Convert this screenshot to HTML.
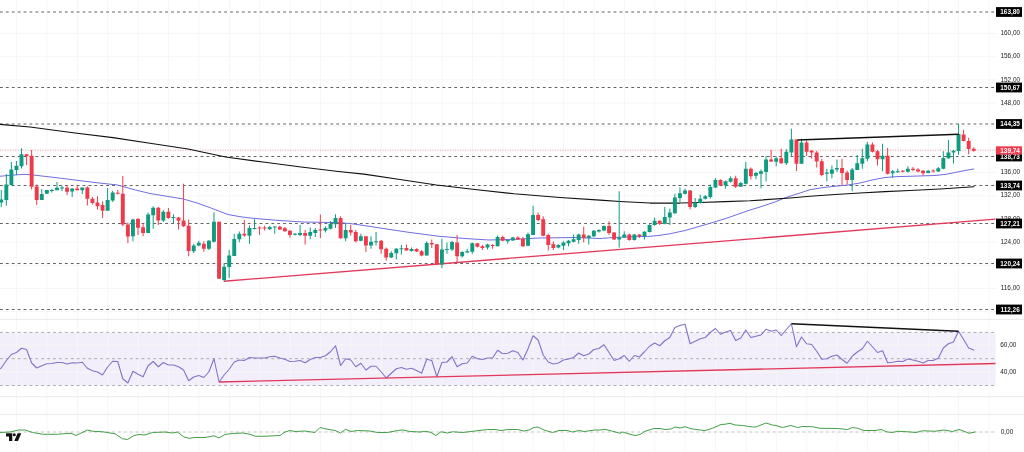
<!DOCTYPE html>
<html><head><meta charset="utf-8"><title>Chart</title><style>html,body{margin:0;padding:0;background:#fff}body{width:1024px;height:452px;overflow:hidden}</style></head><body>
<svg width="1024" height="452" viewBox="0 0 1024 452" style="display:block;will-change:transform">
<rect width="1024" height="452" fill="#fff"/>
<rect x="0" y="332.4" width="995.6" height="53.1" fill="#f3effa"/>
<path d="M16.60 0V452 M46.99 0V452 M77.38 0V452 M107.77 0V452 M138.16 0V452 M168.55 0V452 M198.94 0V452 M229.33 0V452 M259.72 0V452 M290.11 0V452 M320.50 0V452 M350.89 0V452 M381.28 0V452 M411.67 0V452 M442.06 0V452 M472.45 0V452 M502.84 0V452 M533.23 0V452 M563.62 0V452 M594.01 0V452 M624.40 0V452 M654.79 0V452 M685.18 0V452 M715.57 0V452 M745.96 0V452 M776.35 0V452 M806.74 0V452 M837.13 0V452 M867.52 0V452 M897.91 0V452 M928.30 0V452 M958.69 0V452 M989.08 0V452 M0 33.50H996 M0 56.68H996 M0 79.86H996 M0 103.04H996 M0 126.22H996 M0 149.40H996 M0 172.58H996 M0 195.76H996 M0 218.94H996 M0 242.12H996 M0 265.30H996 M0 288.48H996 M0 311.66H996 M0 345.2H996 M0 372.2H996 M0 432H996" stroke="#f6f6f8" stroke-width="1" fill="none"/>
<path d="M0 319.4H1024M0 396.7H1024M0 414.4H1024" stroke="#e9eaee" stroke-width="1" fill="none"/>
<path d="M0 12.00H996 M0 87.50H996 M0 124.00H996 M0 156.50H996 M0 185.50H996 M0 223.50H996 M0 263.50H996 M0 309.50H996" stroke="#444" stroke-width="0.85" stroke-dasharray="2.8 3.1" fill="none"/>
<path d="M0 150.31H996" stroke="#ef3a4c" stroke-opacity=".45" stroke-width="1" stroke-dasharray="1 1.5" fill="none"/>
<path d="M0 332.4H995.6M0 358.7H995.6M0 385.5H995.6" stroke="#a2a2ac" stroke-width="0.9" stroke-dasharray="2.8 3.1" fill="none"/>
<path d="M0 432H995" stroke="#c4c8c4" stroke-width="1" stroke-dasharray="2.8 3.1" fill="none"/>
<path d="M0.00 176.25 L12.00 175.20 L20.00 174.60 L26.00 174.40 L32.00 174.80 L40.00 175.80 L55.00 177.50 L75.00 180.00 L95.00 182.50 L117.50 185.00 L135.50 190.00 L150.00 193.50 L165.00 196.00 L183.00 198.90 L197.00 203.00 L210.50 207.80 L220.00 211.50 L228.00 214.50 L240.00 216.70 L253.00 218.25 L275.00 220.20 L303.00 222.00 L325.00 222.40 L340.50 222.70 L352.00 223.80 L364.00 225.50 L384.00 228.60 L410.00 232.50 L439.00 236.25 L465.00 238.50 L489.00 240.00 L515.00 239.30 L539.00 238.00 L575.00 237.50 L600.00 238.50 L614.00 237.50 L625.00 237.00 L650.00 236.25 L660.00 235.30 L670.00 233.75 L685.00 230.50 L700.00 226.25 L725.00 218.75 L750.00 210.00 L760.00 207.00 L775.00 202.00 L785.00 197.80 L800.00 193.00 L810.00 189.70 L825.00 187.30 L835.00 186.25 L848.00 185.00 L860.00 183.00 L872.00 180.00 L885.00 177.50 L897.00 176.60 L910.00 176.25 L935.00 175.50 L946.00 174.30 L955.00 172.50 L965.00 170.50 L973.75 169.00" stroke="#6f6ee0" stroke-width="1" fill="none" stroke-linejoin="round" stroke-linecap="round" />
<path d="M0.00 124.40 L30.00 127.00 L75.00 133.00 L113.00 137.60 L150.00 143.25 L188.00 149.00 L225.60 157.00 L263.00 162.00 L301.00 167.00 L338.50 171.50 L364.00 174.20 L400.00 179.50 L436.50 185.00 L475.00 189.50 L514.00 193.75 L560.00 197.50 L600.00 200.20 L620.00 201.50 L650.00 203.00 L680.00 203.00 L700.00 202.50 L725.00 201.70 L750.00 200.75 L790.00 198.00 L810.00 196.25 L835.00 194.50 L860.00 193.00 L885.00 191.70 L910.00 190.50 L940.00 189.00 L973.75 186.75" stroke="#111" stroke-width="1.25" fill="none" stroke-linejoin="round" stroke-linecap="round" />
<path d="M224 281.25L995.6 219.2" stroke="#e2385a" stroke-width="1.3" fill="none"/>
<path d="M1.25 190.00V207.00 M6.32 174.00V205.50 M11.38 162.00V185.50 M16.45 161.00V175.00 M21.51 148.25V168.50 M41.77 189.00V200.00 M46.84 190.00V193.75 M51.90 189.00V192.50 M56.97 182.00V190.20 M62.03 185.50V191.00 M72.16 188.40V197.00 M82.29 187.60V194.00 M107.62 188.00V210.75 M112.68 190.75V202.00 M132.94 218.75V241.25 M148.14 212.50V233.00 M153.20 206.25V228.75 M163.33 210.00V222.00 M173.46 214.25V223.00 M193.72 243.75V253.00 M198.79 240.75V246.25 M208.92 240.00V250.00 M213.98 212.50V242.50 M224.11 263.00V282.00 M229.18 250.00V278.00 M234.24 233.75V256.00 M239.31 231.50V242.25 M249.44 225.50V243.75 M254.50 219.25V229.50 M269.69 225.75V230.00 M274.76 226.50V233.75 M295.02 233.00V235.50 M300.09 225.00V236.25 M310.22 227.50V239.25 M315.28 228.00V237.00 M325.41 226.25V232.50 M330.48 221.25V229.50 M335.54 214.25V228.00 M345.67 223.25V241.25 M360.87 233.75V241.25 M371.00 236.25V248.75 M376.06 232.00V245.50 M391.26 251.25V258.00 M396.32 248.00V259.50 M401.39 245.00V254.50 M411.52 247.50V251.50 M426.71 241.25V255.50 M441.91 238.75V268.00 M446.97 242.50V253.75 M452.04 240.75V251.25 M462.17 251.25V257.50 M467.23 248.75V253.00 M472.30 242.50V253.75 M487.49 243.75V249.50 M497.62 235.50V246.25 M507.75 240.00V243.75 M512.82 237.00V240.75 M528.01 232.50V246.25 M533.08 205.75V235.00 M558.40 244.25V248.25 M563.47 241.25V250.00 M568.53 240.00V246.25 M573.60 234.50V242.50 M578.66 233.75V243.75 M588.79 235.00V244.50 M593.86 230.00V237.00 M598.92 229.25V232.50 M603.99 225.50V231.25 M619.18 191.25V247.50 M624.25 231.25V238.00 M634.38 234.00V240.50 M644.50 231.25V239.50 M649.57 224.25V232.50 M654.64 217.50V225.75 M664.77 207.00V224.25 M669.83 208.75V225.00 M674.90 193.75V213.75 M679.96 187.50V202.00 M685.03 188.75V194.50 M695.16 198.00V208.00 M700.22 194.50V203.75 M705.29 195.00V199.50 M710.35 184.50V198.75 M715.42 178.00V188.00 M725.55 180.50V188.75 M730.61 176.25V182.50 M740.74 182.00V186.75 M745.81 162.00V184.50 M755.94 171.75V179.25 M761.00 169.50V188.25 M766.07 155.75V181.25 M776.20 156.25V166.25 M786.33 149.25V165.00 M791.39 128.75V156.25 M801.52 138.75V163.75 M826.85 168.75V181.25 M831.91 165.50V178.25 M836.98 159.50V172.00 M852.17 168.00V191.25 M857.24 155.00V170.00 M862.30 148.75V168.75 M867.37 142.00V161.25 M882.56 143.75V171.25 M892.69 170.00V178.00 M897.76 168.75V173.00 M907.89 166.25V172.50 M928.15 170.00V173.25 M938.28 167.00V172.00 M943.34 151.25V169.25 M948.41 140.00V158.75 M953.47 150.00V163.50 M958.54 123.90V154.75" stroke="#0f9b80" stroke-width="1" fill="none"/>
<path d="M26.58 154.25V165.00 M31.64 150.00V189.50 M36.71 184.50V205.00 M67.09 185.00V195.00 M77.23 185.20V190.20 M87.36 186.25V205.50 M92.42 197.00V204.50 M97.49 196.25V209.50 M102.55 201.25V218.00 M117.75 190.00V194.50 M122.81 175.90V226.25 M127.88 222.50V243.00 M138.01 218.00V235.00 M143.07 223.75V236.25 M158.27 207.00V225.00 M168.40 208.00V218.75 M178.53 217.00V229.50 M183.59 183.75V227.00 M188.66 219.50V256.25 M203.85 241.25V251.75 M219.05 221.75V278.75 M244.37 220.00V236.75 M259.56 226.25V235.00 M264.63 225.75V230.50 M279.83 225.75V230.00 M284.89 227.00V231.75 M289.96 230.00V237.50 M305.15 230.00V244.50 M320.35 214.50V238.25 M340.61 216.25V238.75 M350.74 225.00V235.50 M355.80 230.00V242.50 M365.93 236.25V252.00 M381.13 240.00V253.75 M386.19 247.50V260.50 M406.45 244.50V250.50 M416.58 248.25V252.00 M421.65 250.00V256.25 M431.78 239.50V248.00 M436.84 244.25V265.00 M457.10 235.00V262.50 M477.36 243.25V247.50 M482.43 245.00V250.00 M492.56 244.25V248.75 M502.69 235.75V241.25 M517.88 236.25V240.00 M522.95 237.00V247.00 M538.14 212.50V221.25 M543.21 216.25V236.25 M548.27 233.75V250.50 M553.34 241.25V250.00 M583.73 226.75V242.50 M609.05 221.25V235.00 M614.12 232.00V240.00 M629.31 233.75V240.75 M639.44 234.25V238.00 M659.70 220.50V225.00 M690.09 190.00V209.25 M720.48 179.25V186.25 M735.68 175.75V188.00 M750.87 167.50V179.50 M771.13 150.00V162.00 M781.26 148.75V163.75 M796.46 139.50V171.25 M806.59 140.50V156.00 M811.65 150.00V158.75 M816.72 150.75V167.50 M821.78 158.75V176.25 M842.04 158.75V185.75 M847.11 170.50V184.50 M872.43 142.50V152.50 M877.50 150.00V165.50 M887.63 148.00V174.50 M902.82 170.00V172.50 M912.95 167.00V171.25 M918.02 168.00V172.50 M923.08 170.00V175.50 M933.21 169.50V172.50 M963.60 129.75V141.50 M968.67 137.75V154.40 M973.73 147.30V151.75" stroke="#ef3a4c" stroke-width="1" fill="none"/>
<path d="M-0.70 199.50h3.9V202.50h-3.9z M4.37 184.50h3.9V200.00h-3.9z M9.43 169.50h3.9V185.00h-3.9z M14.50 165.75h3.9V170.00h-3.9z M19.56 154.25h3.9V166.25h-3.9z M39.82 194.00h3.9V200.00h-3.9z M44.88 190.00h3.9V193.75h-3.9z M49.95 190.00h3.9V191.00h-3.9z M55.02 187.75h3.9V190.20h-3.9z M60.08 187.50h3.9V188.40h-3.9z M70.21 188.40h3.9V191.60h-3.9z M80.34 187.60h3.9V190.20h-3.9z M105.67 200.00h3.9V210.75h-3.9z M110.73 192.50h3.9V200.50h-3.9z M130.99 219.50h3.9V236.25h-3.9z M146.19 214.50h3.9V233.00h-3.9z M151.25 207.75h3.9V215.25h-3.9z M161.38 211.75h3.9V220.50h-3.9z M171.51 217.00h3.9V217.90h-3.9z M191.77 245.60h3.9V251.25h-3.9z M196.84 242.75h3.9V245.50h-3.9z M206.97 240.75h3.9V248.75h-3.9z M212.03 221.75h3.9V241.75h-3.9z M222.16 266.75h3.9V280.00h-3.9z M227.23 255.50h3.9V267.00h-3.9z M232.29 239.00h3.9V256.00h-3.9z M237.36 233.75h3.9V239.25h-3.9z M247.49 228.00h3.9V235.75h-3.9z M252.55 228.00h3.9V228.90h-3.9z M267.75 227.00h3.9V229.25h-3.9z M272.81 226.50h3.9V227.50h-3.9z M293.07 233.75h3.9V234.65h-3.9z M298.14 233.00h3.9V235.00h-3.9z M308.27 232.00h3.9V235.75h-3.9z M313.33 230.00h3.9V233.00h-3.9z M323.46 228.00h3.9V230.50h-3.9z M328.53 223.75h3.9V228.75h-3.9z M333.59 218.00h3.9V224.25h-3.9z M343.72 230.00h3.9V238.25h-3.9z M358.92 236.25h3.9V240.75h-3.9z M369.05 241.75h3.9V245.50h-3.9z M374.11 241.25h3.9V242.15h-3.9z M389.31 253.00h3.9V257.50h-3.9z M394.37 248.75h3.9V253.25h-3.9z M399.44 248.25h3.9V249.15h-3.9z M409.57 249.00h3.9V251.00h-3.9z M424.76 243.00h3.9V255.50h-3.9z M439.96 249.50h3.9V264.50h-3.9z M445.02 249.00h3.9V249.90h-3.9z M450.09 242.00h3.9V249.50h-3.9z M460.22 252.00h3.9V256.25h-3.9z M465.28 251.25h3.9V252.50h-3.9z M470.35 243.25h3.9V251.75h-3.9z M485.54 244.50h3.9V247.50h-3.9z M495.67 237.00h3.9V246.25h-3.9z M505.80 240.00h3.9V241.25h-3.9z M510.87 237.50h3.9V240.50h-3.9z M526.06 234.25h3.9V245.75h-3.9z M531.12 215.00h3.9V235.00h-3.9z M556.45 245.00h3.9V247.50h-3.9z M561.51 242.50h3.9V245.75h-3.9z M566.58 240.75h3.9V243.25h-3.9z M571.64 239.25h3.9V241.75h-3.9z M576.71 234.50h3.9V240.00h-3.9z M586.84 235.75h3.9V238.00h-3.9z M591.90 230.75h3.9V236.25h-3.9z M596.97 230.00h3.9V231.50h-3.9z M602.03 226.00h3.9V230.50h-3.9z M617.23 237.50h3.9V239.50h-3.9z M622.29 234.50h3.9V237.50h-3.9z M632.42 234.50h3.9V240.00h-3.9z M642.55 231.75h3.9V236.25h-3.9z M647.62 225.00h3.9V232.00h-3.9z M652.69 220.75h3.9V225.00h-3.9z M662.82 217.00h3.9V223.75h-3.9z M667.88 212.50h3.9V217.50h-3.9z M672.95 197.50h3.9V213.25h-3.9z M678.01 193.25h3.9V198.00h-3.9z M683.08 190.50h3.9V193.75h-3.9z M693.21 202.50h3.9V207.00h-3.9z M698.27 198.75h3.9V203.00h-3.9z M703.34 196.25h3.9V198.75h-3.9z M708.40 187.00h3.9V197.00h-3.9z M713.47 180.00h3.9V187.50h-3.9z M723.60 181.25h3.9V185.50h-3.9z M728.66 178.25h3.9V181.75h-3.9z M738.79 183.00h3.9V186.75h-3.9z M743.86 168.75h3.9V183.75h-3.9z M753.99 173.00h3.9V175.75h-3.9z M759.05 171.25h3.9V173.75h-3.9z M764.12 159.50h3.9V172.00h-3.9z M774.25 158.25h3.9V161.75h-3.9z M784.38 151.75h3.9V163.25h-3.9z M789.44 139.50h3.9V152.50h-3.9z M799.57 142.50h3.9V163.75h-3.9z M824.89 172.50h3.9V173.75h-3.9z M829.96 169.50h3.9V173.75h-3.9z M835.02 168.00h3.9V169.50h-3.9z M850.22 169.50h3.9V180.00h-3.9z M855.28 163.25h3.9V170.00h-3.9z M860.35 158.25h3.9V163.75h-3.9z M865.42 144.50h3.9V158.75h-3.9z M880.61 155.75h3.9V159.25h-3.9z M890.74 171.25h3.9V173.25h-3.9z M895.81 171.25h3.9V172.25h-3.9z M905.94 168.75h3.9V171.75h-3.9z M926.20 170.75h3.9V173.00h-3.9z M936.33 168.25h3.9V171.50h-3.9z M941.39 158.00h3.9V168.75h-3.9z M946.46 152.50h3.9V158.25h-3.9z M951.52 150.75h3.9V152.60h-3.9z M956.59 134.00h3.9V151.00h-3.9z" fill="#0f9b80"/>
<path d="M24.63 154.25h3.9V156.20h-3.9z M29.69 155.75h3.9V186.75h-3.9z M34.76 186.50h3.9V200.00h-3.9z M65.14 187.70h3.9V191.75h-3.9z M75.28 188.40h3.9V190.20h-3.9z M85.41 187.60h3.9V198.75h-3.9z M90.47 198.75h3.9V203.00h-3.9z M95.54 202.50h3.9V206.25h-3.9z M100.60 205.00h3.9V210.75h-3.9z M115.80 192.80h3.9V193.80h-3.9z M120.86 193.75h3.9V224.50h-3.9z M125.93 224.50h3.9V236.50h-3.9z M136.06 219.00h3.9V227.75h-3.9z M141.12 227.25h3.9V233.00h-3.9z M156.32 207.75h3.9V220.50h-3.9z M166.45 211.75h3.9V218.00h-3.9z M176.58 217.50h3.9V220.75h-3.9z M181.64 220.50h3.9V226.25h-3.9z M186.71 225.75h3.9V251.00h-3.9z M201.90 243.75h3.9V248.75h-3.9z M217.10 221.75h3.9V278.75h-3.9z M242.42 233.75h3.9V235.50h-3.9z M257.62 227.50h3.9V228.40h-3.9z M262.68 227.50h3.9V228.50h-3.9z M277.88 226.75h3.9V229.50h-3.9z M282.94 228.25h3.9V231.25h-3.9z M288.01 230.75h3.9V235.00h-3.9z M303.20 233.00h3.9V235.75h-3.9z M318.40 229.50h3.9V230.50h-3.9z M338.66 218.00h3.9V238.25h-3.9z M348.79 230.00h3.9V232.50h-3.9z M353.85 232.00h3.9V241.25h-3.9z M363.98 236.25h3.9V245.50h-3.9z M379.18 240.75h3.9V249.25h-3.9z M384.24 248.75h3.9V257.50h-3.9z M404.50 248.00h3.9V250.50h-3.9z M414.63 249.00h3.9V251.50h-3.9z M419.70 251.25h3.9V255.50h-3.9z M429.83 243.00h3.9V244.50h-3.9z M434.89 244.25h3.9V264.50h-3.9z M455.15 242.50h3.9V256.25h-3.9z M475.41 243.25h3.9V246.75h-3.9z M480.48 246.25h3.9V248.00h-3.9z M490.61 245.00h3.9V245.90h-3.9z M500.74 237.00h3.9V240.75h-3.9z M515.93 237.50h3.9V239.50h-3.9z M521.00 238.75h3.9V246.25h-3.9z M536.19 215.00h3.9V220.00h-3.9z M541.25 219.25h3.9V235.75h-3.9z M546.32 235.00h3.9V245.00h-3.9z M551.38 244.25h3.9V248.00h-3.9z M581.77 234.50h3.9V238.00h-3.9z M607.10 226.00h3.9V233.00h-3.9z M612.16 232.50h3.9V239.50h-3.9z M627.36 234.50h3.9V240.00h-3.9z M637.49 234.50h3.9V236.25h-3.9z M657.75 220.75h3.9V223.75h-3.9z M688.14 190.50h3.9V207.00h-3.9z M718.53 180.00h3.9V185.50h-3.9z M733.73 178.25h3.9V186.75h-3.9z M748.92 168.75h3.9V176.25h-3.9z M769.18 159.50h3.9V161.40h-3.9z M779.31 158.25h3.9V163.25h-3.9z M794.50 139.50h3.9V163.75h-3.9z M804.63 142.50h3.9V151.75h-3.9z M809.70 150.75h3.9V152.50h-3.9z M814.76 152.50h3.9V161.50h-3.9z M819.83 161.25h3.9V175.00h-3.9z M840.09 168.00h3.9V173.00h-3.9z M845.15 172.50h3.9V180.00h-3.9z M870.48 144.50h3.9V151.75h-3.9z M875.55 151.25h3.9V159.25h-3.9z M885.68 155.75h3.9V173.75h-3.9z M900.87 170.75h3.9V171.75h-3.9z M911.00 168.75h3.9V170.00h-3.9z M916.07 169.50h3.9V171.50h-3.9z M921.13 170.75h3.9V173.25h-3.9z M931.26 170.50h3.9V171.50h-3.9z M961.65 134.40h3.9V141.00h-3.9z M966.72 141.00h3.9V148.90h-3.9z M971.78 148.70h3.9V150.70h-3.9z" fill="#ef3a4c"/>
<path d="M797.5 140L958.75 134.25" stroke="#111" stroke-width="1.35" fill="none"/>
<path d="M-3.80 370.50 L1.25 368.00 L6.32 360.50 L11.38 354.50 L16.45 352.50 L21.51 348.25 L26.58 349.50 L31.64 363.00 L36.71 368.00 L41.77 365.75 L46.84 363.75 L51.90 363.50 L56.97 362.50 L62.03 362.50 L67.09 364.00 L72.16 362.75 L77.23 363.00 L82.29 362.25 L87.36 368.25 L92.42 370.75 L97.49 372.00 L102.55 375.00 L107.62 367.00 L112.68 361.25 L117.75 361.50 L122.81 378.75 L127.88 383.00 L132.94 371.25 L138.01 374.25 L143.07 376.75 L148.14 365.75 L153.20 361.50 L158.27 366.75 L163.33 362.50 L168.40 365.00 L173.46 365.00 L178.53 366.75 L183.59 370.00 L188.66 380.75 L193.72 377.00 L198.79 375.50 L203.85 377.50 L208.92 371.75 L213.98 358.75 L219.05 382.00 L224.11 375.00 L229.18 369.25 L234.24 362.00 L239.31 360.00 L244.37 360.50 L249.44 357.50 L254.50 358.00 L259.56 358.00 L264.63 358.00 L269.69 356.75 L274.76 356.25 L279.83 358.00 L284.89 359.25 L289.96 361.50 L295.02 361.25 L300.09 360.50 L305.15 362.75 L310.22 359.50 L315.28 357.50 L320.35 357.50 L325.41 355.75 L330.48 351.75 L335.54 345.75 L340.61 365.50 L345.67 358.75 L350.74 360.00 L355.80 366.75 L360.87 363.25 L365.93 370.00 L371.00 366.25 L376.06 366.25 L381.13 371.75 L386.19 378.00 L391.26 373.25 L396.32 368.75 L401.39 367.50 L406.45 369.25 L411.52 368.25 L416.58 370.50 L421.65 373.25 L426.71 359.25 L431.78 360.50 L436.84 376.75 L441.91 362.50 L446.97 362.00 L452.04 356.75 L457.10 366.75 L462.17 363.75 L467.23 363.00 L472.30 356.25 L477.36 358.75 L482.43 359.50 L487.49 358.00 L492.56 358.00 L497.62 350.25 L502.69 353.75 L507.75 353.25 L512.82 350.75 L517.88 352.50 L522.95 360.00 L528.01 348.75 L533.08 335.75 L538.14 340.00 L543.21 355.00 L548.27 362.00 L553.34 364.00 L558.40 363.00 L563.47 360.00 L568.53 359.00 L573.60 357.50 L578.66 353.00 L583.73 355.75 L588.79 354.00 L593.86 349.50 L598.92 348.50 L603.99 344.75 L609.05 352.50 L614.12 360.50 L619.18 358.75 L624.25 355.50 L629.31 361.25 L634.38 355.50 L639.44 357.00 L644.50 351.75 L649.57 346.25 L654.64 343.00 L659.70 345.75 L664.77 340.75 L669.83 337.50 L674.90 327.50 L679.96 325.50 L685.03 324.25 L690.09 343.75 L695.16 341.25 L700.22 338.75 L705.29 337.50 L710.35 332.50 L715.42 328.50 L720.48 334.25 L725.55 332.00 L730.61 330.50 L735.68 340.50 L740.74 338.00 L745.81 330.00 L750.87 337.50 L755.94 336.25 L761.00 335.00 L766.07 329.25 L771.13 331.25 L776.20 330.00 L781.26 335.50 L786.33 329.50 L791.39 323.75 L796.46 346.75 L801.52 337.00 L806.59 343.75 L811.65 344.50 L816.72 351.25 L821.78 359.25 L826.85 358.75 L831.91 356.25 L836.98 355.00 L842.04 359.50 L847.11 363.25 L852.17 356.25 L857.24 352.00 L862.30 348.75 L867.37 341.25 L872.43 346.75 L877.50 352.50 L882.56 350.75 L887.63 362.75 L892.69 362.25 L897.76 361.25 L902.82 361.50 L907.89 359.00 L912.95 360.00 L918.02 361.25 L923.08 363.00 L928.15 360.50 L933.21 360.50 L938.28 358.25 L943.34 348.00 L948.41 343.75 L953.47 342.00 L958.54 331.25 L963.60 339.50 L968.67 348.00 L973.73 350.00" stroke="#8672c8" stroke-width="1.1" fill="none" stroke-linejoin="round" stroke-linecap="round" />
<path d="M219 382L995.5 363.5" stroke="#e2385a" stroke-width="1.3" fill="none"/>
<path d="M791.5 323.75L958.5 331.25" stroke="#111" stroke-width="1.35" fill="none"/>
<path d="M0.00 432.50 L10.00 432.00 L18.75 430.00 L25.00 430.00 L32.50 432.50 L42.50 434.25 L57.50 434.25 L71.00 433.25 L76.00 435.50 L87.50 430.00 L92.50 431.25 L102.50 431.75 L115.00 433.75 L122.50 438.75 L127.50 439.50 L134.00 435.50 L139.00 434.50 L145.00 435.00 L152.50 432.50 L165.00 432.00 L172.50 433.00 L177.50 432.00 L184.00 437.00 L189.00 438.25 L195.00 437.50 L205.00 437.50 L214.00 435.75 L219.00 438.00 L225.00 434.50 L232.50 433.50 L242.50 433.00 L250.00 434.25 L255.00 436.25 L265.00 436.25 L280.00 435.50 L285.00 432.00 L290.00 430.50 L295.00 431.50 L305.00 431.00 L315.00 432.50 L320.00 427.50 L325.00 428.75 L335.00 430.50 L340.50 433.00 L345.50 429.25 L351.00 431.50 L357.50 430.50 L370.00 431.00 L377.50 432.50 L387.50 432.50 L397.50 430.50 L402.50 430.00 L410.00 431.50 L420.00 432.00 L426.00 431.25 L431.00 432.50 L436.00 435.50 L441.00 431.75 L447.50 433.00 L452.50 431.75 L462.50 432.50 L475.00 431.00 L487.50 429.50 L495.00 429.50 L501.00 430.50 L507.50 429.50 L517.50 429.50 L524.00 431.00 L529.00 430.00 L534.00 427.50 L538.00 427.00 L544.00 430.00 L552.50 432.50 L559.00 430.50 L567.50 430.50 L572.50 432.00 L579.00 430.50 L584.00 431.50 L595.00 430.00 L600.00 430.00 L605.00 429.25 L612.50 431.25 L620.00 433.25 L622.50 432.00 L630.00 434.25 L635.00 435.50 L640.00 434.50 L645.00 431.25 L654.00 428.50 L660.00 428.50 L665.00 429.50 L671.00 429.00 L675.00 427.00 L680.00 428.00 L685.00 426.75 L691.00 428.75 L700.00 430.00 L705.00 430.50 L712.50 428.25 L721.00 424.50 L725.00 424.25 L730.00 423.25 L735.00 425.00 L742.50 425.50 L752.50 427.00 L756.00 427.00 L766.00 423.00 L772.50 425.00 L776.00 425.50 L782.50 427.50 L791.00 425.50 L797.50 427.50 L802.50 426.50 L812.50 426.75 L820.00 428.25 L837.50 428.50 L847.50 429.50 L852.50 427.50 L857.50 428.25 L864.00 430.50 L875.00 430.50 L881.00 429.50 L887.50 432.00 L892.50 432.50 L897.50 431.25 L907.50 431.75 L916.00 432.50 L922.50 430.75 L935.00 431.25 L944.00 430.00 L952.50 431.50 L959.00 429.50 L964.00 431.25 L969.00 433.25 L975.00 432.00" stroke="#43a047" stroke-width="1" fill="none" stroke-linejoin="round" stroke-linecap="round" />
<g font-family="Liberation Sans, Arial, sans-serif" font-size="6.45" fill="#1c1c1c" text-anchor="middle">
<text x="1010.3" y="35.15">160,00</text>
<text x="1010.3" y="58.33">156,00</text>
<text x="1010.3" y="81.51">152,00</text>
<text x="1010.3" y="104.69">148,00</text>
<text x="1010.3" y="174.23">136,00</text>
<text x="1010.3" y="197.41">132,00</text>
<text x="1010.3" y="220.59">128,00</text>
<text x="1010.3" y="243.77">124,00</text>
<text x="1010.3" y="290.13">116,00</text>
<text x="1008.3" y="346.90">60,00</text>
<text x="1008.3" y="374.00">40,00</text>
<text x="1007" y="434.00">0,00</text>
</g>
<g font-family="Liberation Sans, Arial, sans-serif" font-size="6.45" font-weight="bold" fill="#fff" text-anchor="middle">
<rect x="996" y="7.10" width="26" height="9.8" fill="#000"/>
<text x="1010.1" y="14.40">163,80</text>
<rect x="996" y="82.60" width="26" height="9.8" fill="#000"/>
<text x="1010.1" y="89.90">150,67</text>
<rect x="996" y="119.10" width="26" height="9.8" fill="#000"/>
<text x="1010.1" y="126.40">144,35</text>
<rect x="996" y="151.60" width="26" height="9.8" fill="#000"/>
<text x="1010.1" y="158.90">138,73</text>
<rect x="996" y="180.60" width="26" height="9.8" fill="#000"/>
<text x="1010.1" y="187.90">133,74</text>
<rect x="996" y="218.60" width="26" height="9.8" fill="#000"/>
<text x="1010.1" y="225.90">127,21</text>
<rect x="996" y="258.60" width="26" height="9.8" fill="#000"/>
<text x="1010.1" y="265.90">120,24</text>
<rect x="996" y="304.60" width="26" height="9.8" fill="#000"/>
<text x="1010.1" y="311.90">112,26</text>
<rect x="996" y="146.31" width="26" height="8.3" fill="#ef3a4c"/>
<text x="1010.1" y="152.91">139,74</text>
</g>
<g fill="#111"><path d="M6 433.2h6.3v7.9h-3.3v-4.7h-3z"/><circle cx="14.3" cy="434.7" r="1.5"/><path d="M17.6 433.2h3.7l-3.3 7.9h-3.7z"/></g>
</svg>
</body></html>
